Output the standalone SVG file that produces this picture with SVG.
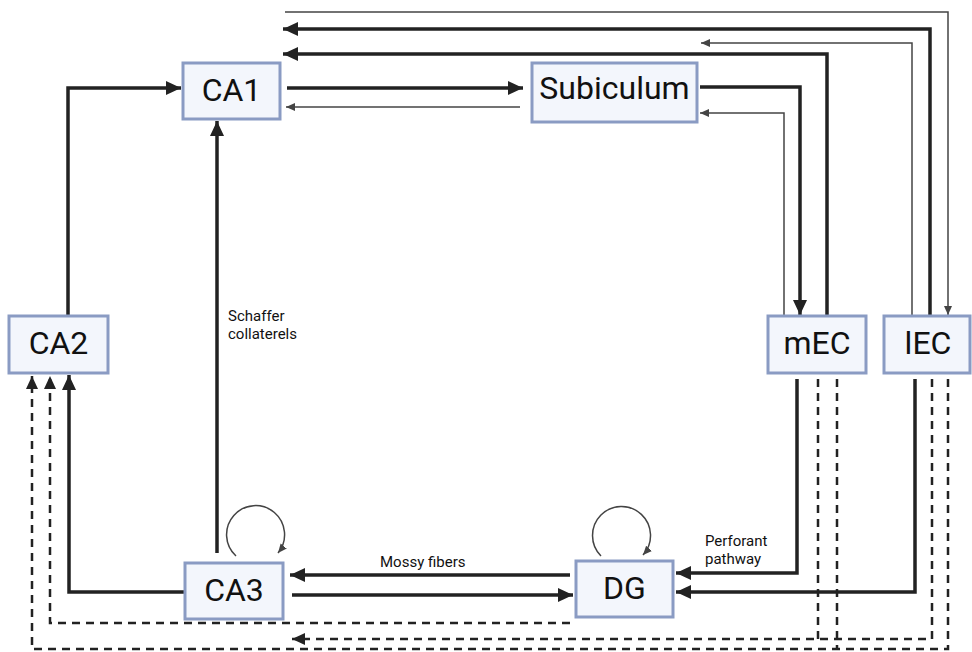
<svg xmlns="http://www.w3.org/2000/svg" width="972" height="652" viewBox="0 0 972 652">
<defs>
<style>
.box{fill:#f3f6fc;stroke:#8a9bc3;stroke-width:3}
.lbl{font-family:Roboto,"Liberation Sans",sans-serif;font-size:32px;fill:#111;text-anchor:middle;dominant-baseline:central}
.small{font-family:Roboto,"Liberation Sans",sans-serif;font-size:15px;fill:#111}
.thick{fill:none;stroke:#222;stroke-width:3.5}
.thin{fill:none;stroke:#444;stroke-width:1.5}
.dash{fill:none;stroke:#222;stroke-width:2.5;stroke-dasharray:8,6}
.loop{fill:none;stroke:#444;stroke-width:1.5}
</style>
<marker id="aT" markerUnits="userSpaceOnUse" markerWidth="16" markerHeight="16" refX="15" refY="8" orient="auto"><path d="M0,1 L15,8 L0,15 z" fill="#222"/></marker>
<marker id="at" markerUnits="userSpaceOnUse" markerWidth="10" markerHeight="10" refX="9" refY="5" orient="auto"><path d="M0,1 L9,5 L0,9 z" fill="#444"/></marker>
<marker id="aD" markerUnits="userSpaceOnUse" markerWidth="14" markerHeight="14" refX="13" refY="7" orient="auto"><path d="M0,1 L13,7 L0,13 z" fill="#222"/></marker>
</defs>
<g id="connectors">
<path class="thick" d="M68,316 V88 H181" marker-end="url(#aT)"/>
<path class="thick" d="M287,88 H523" marker-end="url(#aT)"/>
<path class="thin" d="M520,107 H286" marker-end="url(#at)"/>
<path class="thin" d="M285,12 H948 V315" marker-end="url(#at)"/>
<path class="thick" d="M930,316 V29 H283" marker-end="url(#aT)"/>
<path class="thin" d="M912,316 V43 H701" marker-end="url(#at)"/>
<path class="thick" d="M827,316 V54 H283" marker-end="url(#aT)"/>
<path class="thick" d="M700,87 H800 V315" marker-end="url(#aT)"/>
<path class="thin" d="M784,316 V113 H700" marker-end="url(#at)"/>
<path class="thick" d="M217,553 V121" marker-end="url(#aT)"/>
<path class="thick" d="M185,592 H69 V375" marker-end="url(#aT)"/>
<path class="thick" d="M570,575 H290" marker-end="url(#aT)"/>
<path class="thick" d="M292,595 H573" marker-end="url(#aT)"/>
<path class="thick" d="M797,379 V573 H676" marker-end="url(#aT)"/>
<path class="thick" d="M915,379 V592 H676" marker-end="url(#aT)"/>
<path class="dash" d="M818,379 V639"/>
<path class="dash" d="M932,379 V639 H292" marker-end="url(#aD)"/>
<path class="dash" d="M837,379 V649"/>
<path class="dash" d="M948,379 V649 H32 V376" marker-end="url(#aD)"/>
<path class="dash" d="M570,623 H50 V376" marker-end="url(#aD)"/>
<path class="loop" d="M236,556 A29,29 0 1 1 278,553" marker-end="url(#at)"/>
<path class="loop" d="M601,556 A29,29 0 1 1 643,555" marker-end="url(#at)"/>
</g>
<g id="CA1"><rect class="box" x="183" y="63" width="97" height="56"/><text class="lbl" x="231.5" y="90">CA1</text></g>
<g id="Subiculum"><rect class="box" x="532" y="63" width="165" height="59"/><text class="lbl" x="614.5" y="88">Subiculum</text></g>
<g id="CA2"><rect class="box" x="9" y="316" width="99" height="57"/><text class="lbl" x="58.5" y="343">CA2</text></g>
<g id="mEC"><rect class="box" x="768" y="316" width="98" height="57"/><text class="lbl" x="817" y="343">mEC</text></g>
<g id="lEC"><rect class="box" x="884" y="316" width="86" height="57"/><text class="lbl" x="928" y="343">lEC</text></g>
<g id="CA3"><rect class="box" x="185" y="563" width="98" height="56"/><text class="lbl" x="234" y="590">CA3</text></g>
<g id="DG"><rect class="box" x="576" y="561" width="97" height="56"/><text class="lbl" x="624.5" y="588">DG</text></g>
<g id="labels">
<text class="small" x="228" y="321">Schaffer</text>
<text class="small" x="228" y="339">collaterels</text>
<text class="small" x="380" y="567">Mossy fibers</text>
<text class="small" x="705" y="546">Perforant</text>
<text class="small" x="705" y="564">pathway</text>
</g>
</svg>
